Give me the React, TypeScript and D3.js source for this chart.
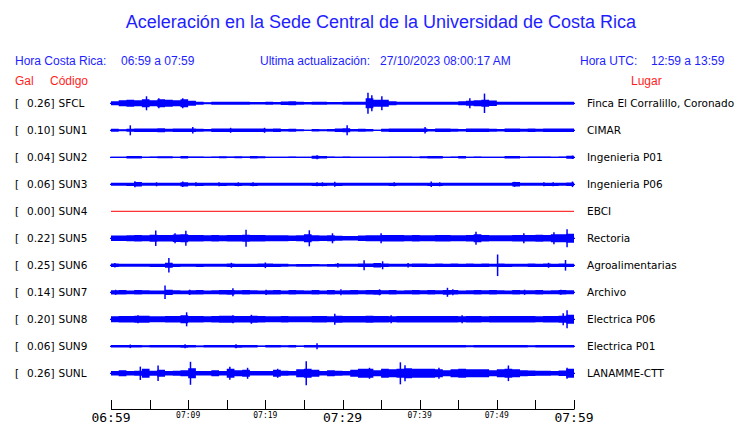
import React from "react";
import * as d3 from "d3";

const codes = ["SFCL", "SUN1", "SUN2", "SUN3", "SUN4", "SUN5", "SUN6", "SUN7", "SUN8", "SUN9", "SUNL"];
const gals = ["0.26", "0.10", "0.04", "0.06", "0.00", "0.22", "0.25", "0.14", "0.20", "0.06", "0.26"];
const places = [
  "Finca El Corralillo, Coronado", "CIMAR", "Ingenieria P01", "Ingenieria P06", "EBCI",
  "Rectoria", "Agroalimentarias", "Archivo", "Electrica P06", "Electrica P01", "LANAMME-CTT",
];
const tickMinutes = d3.range(0, 61, 5);
const tickLabels: Record<number, string> = { 0: "06:59", 10: "07:09", 20: "07:19", 30: "07:29", 40: "07:39", 50: "07:49", 60: "07:59" };
const bigLabels = [0, 30, 60];

// per-minute half amplitude envelopes (px-like units)
const envSFCL = [2, 3, 3.5, 3, 4, 3, 4, 3.5, 3, 4, 2.5, 1.5, 1, 1.5, 1.5, 1.5, 1.5, 1.5, 1.2, 1.2, 1.5, 1.2, 1.7, 2, 1.5, 1.2, 1.5, 1.5, 1.2, 1.2, 1.5, 1.5, 1.5, 5, 3.5, 3.5, 2, 1.5, 1.5, 1.5, 1.5, 1.5, 1.5, 1.5, 1.5, 2, 2.5, 3, 3.5, 2.8, 1.5, 1.5, 1.5, 1.5, 1.5, 1.5, 1.5, 1.5, 1.5, 1.5];
const envSUN1 = [1.5, 1, 1.5, 1.7, 1.7, 1.7, 2, 1.5, 1.7, 1.7, 1.7, 1.5, 1.2, 1.7, 1.7, 1.8, 1.7, 1.7, 1.7, 1.7, 1.5, 1.7, 1.2, 1.5, 1, 0.6, 1.2, 1, 1.2, 1.7, 2, 1.2, 1.5, 1.2, 0.6, 1.5, 1.7, 1.7, 1.7, 1.7, 1.7, 1.2, 1.7, 1.7, 1.5, 1.2, 1.7, 1.7, 1.7, 1.5, 1.2, 1.7, 1.7, 1.5, 1.7, 1.5, 1.7, 1.7, 1.7, 1.7];
const envSUN2 = [0.5, 0.5, 1.3, 1.3, 0.5, 0.8, 1, 1, 0.5, 1.3, 0.8, 0.8, 0.5, 0.8, 1, 0.8, 1, 0.8, 1.2, 1, 0.5, 0.5, 0.5, 0.8, 0.5, 0.5, 1.5, 1.3, 0.8, 0.5, 0.8, 0.5, 0.5, 0.5, 0.5, 0.5, 0.8, 0.8, 0.8, 0.5, 1, 1.3, 1.3, 0.5, 0.8, 1.3, 0.5, 0.8, 0.5, 0.5, 0.5, 1.3, 1.3, 0.5, 0.8, 0.8, 0.8, 0.5, 0.8, 1.5];
const envSUN3 = [1.5, 1.5, 1.6, 2.2, 1.5, 1.5, 1.5, 1.5, 1.5, 2.1, 1.5, 1.6, 1.5, 1.5, 1.6, 1.5, 1.6, 1.5, 1.6, 1.5, 1.5, 1.5, 1.5, 1.5, 1.5, 1.5, 1.6, 1.6, 1.5, 1.6, 1.5, 1.5, 1.5, 1.5, 1.5, 1.5, 1.6, 1.5, 1.5, 1.5, 1.5, 1.6, 1.6, 1.5, 1.5, 1.5, 1.5, 1.5, 1.5, 1.5, 1.5, 1.5, 2.2, 1.5, 1.5, 1.5, 1.6, 1.6, 1.5, 1.7];
const envSUN4 = [0, 0, 0, 0, 0, 0, 0, 0, 0, 0, 0, 0, 0, 0, 0, 0, 0, 0, 0, 0, 0, 0, 0, 0, 0, 0, 0, 0, 0, 0, 0, 0, 0, 0, 0, 0, 0, 0, 0, 0, 0, 0, 0, 0, 0, 0, 0, 0, 0, 0, 0, 0, 0, 0, 0, 0, 0, 0, 0, 0];
const envSUN5 = [2.8, 2.8, 3, 3.3, 3, 3.5, 3.3, 3.3, 3.8, 4, 3.3, 3.3, 3, 3.3, 3, 3.3, 3.3, 3.5, 3.3, 3.3, 3, 3, 3, 2.8, 3, 4, 3, 2.8, 3, 2.5, 2.3, 2.3, 2.8, 3, 3, 3.3, 3.3, 3.3, 3, 3.3, 3, 3, 3.3, 3.3, 3, 3, 3.3, 4, 3.3, 3, 3, 3, 3.3, 3.3, 3.3, 3.5, 3.3, 4, 4, 4.5];
const envSUN6 = [1.8, 1.5, 1.5, 1.5, 1.5, 1.6, 1.6, 2.5, 1.6, 1.5, 1.5, 1.6, 1.5, 1.5, 1.5, 1.7, 1.6, 1.6, 1.6, 1.7, 1.8, 1.6, 1.5, 1.1, 1.4, 1.4, 1.3, 1.1, 1.4, 1.5, 1.5, 1.5, 1.8, 1.7, 2.2, 1.8, 1.5, 1.5, 1.5, 1.7, 1.7, 1.6, 1.7, 1.6, 1.7, 1.6, 1.7, 1.6, 1.7, 1.5, 1.8, 1.6, 1.5, 1.5, 1.7, 1.6, 1.7, 1.6, 1.8, 1.6];
const envSUN7 = [2.1, 2.2, 1.9, 2.2, 2, 1.9, 1.9, 2.6, 2, 1.9, 2.1, 2.2, 1.9, 2, 2.2, 2.4, 2, 2.2, 2, 1.9, 2.1, 2.2, 1.9, 2.2, 2, 1.9, 2.2, 1.9, 2.2, 1.9, 2.1, 2.2, 2, 2.2, 2.4, 2, 2.2, 1.9, 2, 2.2, 2, 2.2, 2, 2.4, 2.2, 1.9, 2, 2.2, 2, 2.2, 2, 1.9, 2.2, 2, 2, 2.2, 1.9, 2, 2.2, 2];
const envSUN8 = [3, 3.3, 3.3, 3.5, 3.5, 3, 3, 3.2, 3.2, 4, 3.3, 3.2, 3, 3.2, 3.5, 3.5, 3.2, 3.3, 3.5, 3.3, 3, 3, 3.2, 3, 3, 3, 3.2, 3.2, 3, 3.5, 3.2, 3.2, 3.3, 3.5, 3.3, 3.2, 3, 3.3, 3.2, 3.2, 3.3, 3.3, 3.2, 3.3, 3.2, 3, 3.2, 3.3, 3, 3.2, 3.3, 3.2, 3.3, 3.2, 3.2, 3, 3.2, 3.3, 3.5, 4.5];
const envSUN9 = [1.3, 1.2, 1.3, 1.3, 1, 1.2, 1.3, 1.3, 1.2, 1.4, 1.3, 0.9, 1.2, 1.3, 1.2, 1.3, 1.4, 1.2, 1.2, 0.8, 1.2, 1.3, 1, 1.2, 0.8, 1.2, 1.3, 1.3, 1.2, 1.3, 1.3, 1.2, 1.3, 1.3, 1.2, 1.3, 1.2, 1.3, 1.3, 1.2, 1.3, 1.3, 1.3, 1.2, 1.3, 1.2, 1, 1.2, 1.2, 1.3, 1.3, 1.3, 1.2, 1.2, 1, 1.2, 1.2, 1.3, 1.3, 1.3];
const envSUNL = [2.2, 3, 2.2, 2.5, 4.5, 2.5, 3.5, 2.2, 2.5, 3, 5, 2.2, 2.2, 3, 2.2, 4.5, 3, 3.5, 2.2, 2.2, 2.2, 3.5, 2.5, 2.2, 4, 4.5, 3.5, 2.2, 3, 2.5, 2.2, 3.5, 4.5, 4.5, 3, 4.5, 4, 4.5, 5, 4.5, 4.5, 4.5, 4, 3, 4, 4.5, 4, 4, 4, 3, 4, 4.5, 4, 3, 2.8, 2.5, 2.5, 2.2, 2.8, 4.5];

// notable peaks: [minute, half amplitude]
const pkSFCL = [[4.6, 7], [6.2, 5], [9.3, 5], [33.3, 10.5], [33.8, 8], [35.1, 7], [48.4, 9.7], [46.5, 5]];
const pkSUN1 = [[2.5, 5], [10.6, 3.3], [30.6, 5], [40.7, 3.3], [15.5, 2.5], [19.9, 2.5]];
const pkSUN2 = [[26.7, 2], [59.8, 1.7]];
const pkSUN3 = [[3.1, 3], [9.3, 2.7], [29, 2.5], [41.5, 2.7], [52.3, 2.5], [59.8, 2.8], [5.9, 2], [11, 2], [14, 2], [16.5, 2], [18.4, 2], [26.7, 2], [27.4, 2], [36.7, 2], [42.6, 2], [56.1, 2], [57.3, 2]];
const pkSUN4: number[][] = [];
const pkSUN5 = [[5.8, 7.8], [9.7, 7.5], [8.3, 5], [17.5, 8.5], [25.7, 8], [28.7, 5], [47.3, 6.5], [53.5, 5], [57.4, 6], [59.1, 9], [35, 5]];
const pkSUN6 = [[7.5, 7.3], [32.8, 5], [35.2, 4], [50.1, 10.8], [58.9, 5.3], [20.0, 2.8], [15.6, 2.5], [0.5, 2.3], [29.4, 2.2], [38.5, 2.2], [56.7, 2.5]];
const pkSUN7 = [[7.0, 6.7], [15.8, 4], [43.6, 4.5], [34.8, 3], [29.8, 3], [44.3, 3], [0.6, 2.5], [10.2, 2.6], [20.1, 2.6], [53.6, 2.6], [58.3, 2.5]];
const pkSUN8 = [[9.8, 7], [29, 5.5], [59.1, 9], [18.2, 4.5], [15.8, 4], [3.5, 4], [45.5, 4], [36.3, 4], [58.6, 6]];
const pkSUN9 = [[26.7, 3], [9.6, 2], [16.2, 2], [2.5, 1.8]];
const pkSUNL = [[3.8, 6.7], [6.1, 7.8], [10.3, 11.5], [15.4, 6.5], [17.7, 5.5], [21.6, 4.5], [25.3, 12], [33.5, 5.5], [37.5, 11], [38.1, 8], [42.5, 5.5], [51.5, 7.8], [59.1, 5.5]];

const envelopes = [envSFCL, envSUN1, envSUN2, envSUN3, envSUN4, envSUN5, envSUN6, envSUN7, envSUN8, envSUN9, envSUNL];
const peaks = [pkSFCL, pkSUN1, pkSUN2, pkSUN3, pkSUN4, pkSUN5, pkSUN6, pkSUN7, pkSUN8, pkSUN9, pkSUNL];

const BLUE = "#0000ff";
const TEXT_BLUE = "#1e1eff";
const RED = "#ff1e1e";
const SANS = "'Liberation Sans', Arial, sans-serif";
const DEJA = "'DejaVu Sans', sans-serif";
const MONO = "'DejaVu Sans Mono', monospace";

export default function App() {
  const x = d3.scaleLinear().domain([0, 60]).range([111, 574]);
  const row = d3.scaleLinear().domain([0, 10]).range([103.3, 373.3]);
  const amp = d3.scaleLinear().domain([0, 12]).range([0, 12]);

  return (
    <svg width={740} height={423} style={{ position: "absolute", left: 0, top: 0, background: "#fff" }}>
      <rect width={740} height={423} fill="#fff" />
      <text x={381} y={28} textAnchor="middle" fill={TEXT_BLUE} fontFamily={SANS} fontSize={18}>
        Aceleración en la Sede Central de la Universidad de Costa Rica
      </text>
      <g fontFamily={SANS} fontSize={12} fill={TEXT_BLUE}>
        <text x={15} y={65}>Hora Costa Rica:</text>
        <text x={121} y={65}>06:59 a 07:59</text>
        <text x={260} y={65}>Ultima actualización:</text>
        <text x={380} y={65}>27/10/2023 08:00:17 AM</text>
        <text x={580} y={65}>Hora UTC:</text>
        <text x={651} y={65}>12:59 a 13:59</text>
      </g>
      <g fontFamily={SANS} fontSize={12} fill={RED}>
        <text x={15} y={85}>Gal</text>
        <text x={50} y={85}>Código</text>
        <text x={631} y={85}>Lugar</text>
      </g>
      {codes.map((c, i) => {
        const cy = row(i);
        const env = envelopes[i];
        const pts = env.map((v, k) => [k, v]).concat([[60, env[env.length - 1]]]);
        const area = d3
          .area<number[]>()
          .x((d) => x(d[0]))
          .y0((d) => cy - amp(d[1]))
          .y1((d) => cy + amp(d[1]))
          .curve(d3.curveStepAfter);
        const isFlat = c === "SUN4";
        return (
          <g key={c}>
            <g fontFamily={DEJA} fontSize={10.5} fill="#000">
              <text x={15} y={cy + 4}>[</text>
              <text x={54.5} y={cy + 4} textAnchor="end">{gals[i]}]</text>
              <text x={58.5} y={cy + 4}>{c}</text>
              <text x={587} y={cy + 4}>{places[i]}</text>
            </g>
            {isFlat ? (
              <line x1={x(0)} x2={x(60)} y1={cy} y2={cy} stroke="#ff0000" strokeWidth={1} />
            ) : (
              <>
                <line x1={x(0) - 1} x2={x(60) + 1} y1={cy} y2={cy} stroke={BLUE} strokeWidth={1.2} />
                <path d={area(pts) || ""} fill={BLUE} />
                {peaks[i].map((p, k) => (
                  <line key={k} x1={x(p[0])} x2={x(p[0])} y1={cy - amp(p[1])} y2={cy + amp(p[1])} stroke={BLUE} strokeWidth={1.5} />
                ))}
              </>
            )}
          </g>
        );
      })}
      <g stroke="#000" strokeWidth={1}>
        <line x1={x(0)} x2={x(60)} y1={409.5} y2={409.5} />
        {tickMinutes.map((m) => (
          <line key={m} x1={Math.round(x(m)) + 0.5} x2={Math.round(x(m)) + 0.5} y1={400} y2={409.5} />
        ))}
      </g>
      {tickMinutes
        .filter((m) => tickLabels[m] !== undefined)
        .map((m) => {
          const big = bigLabels.includes(m);
          return (
            <text key={m} x={x(m)} y={big ? 421.5 : 418} textAnchor="middle" fontFamily={MONO} fontSize={big ? 13 : 8} fill="#000">
              {tickLabels[m]}
            </text>
          );
        })}
    </svg>
  );
}
